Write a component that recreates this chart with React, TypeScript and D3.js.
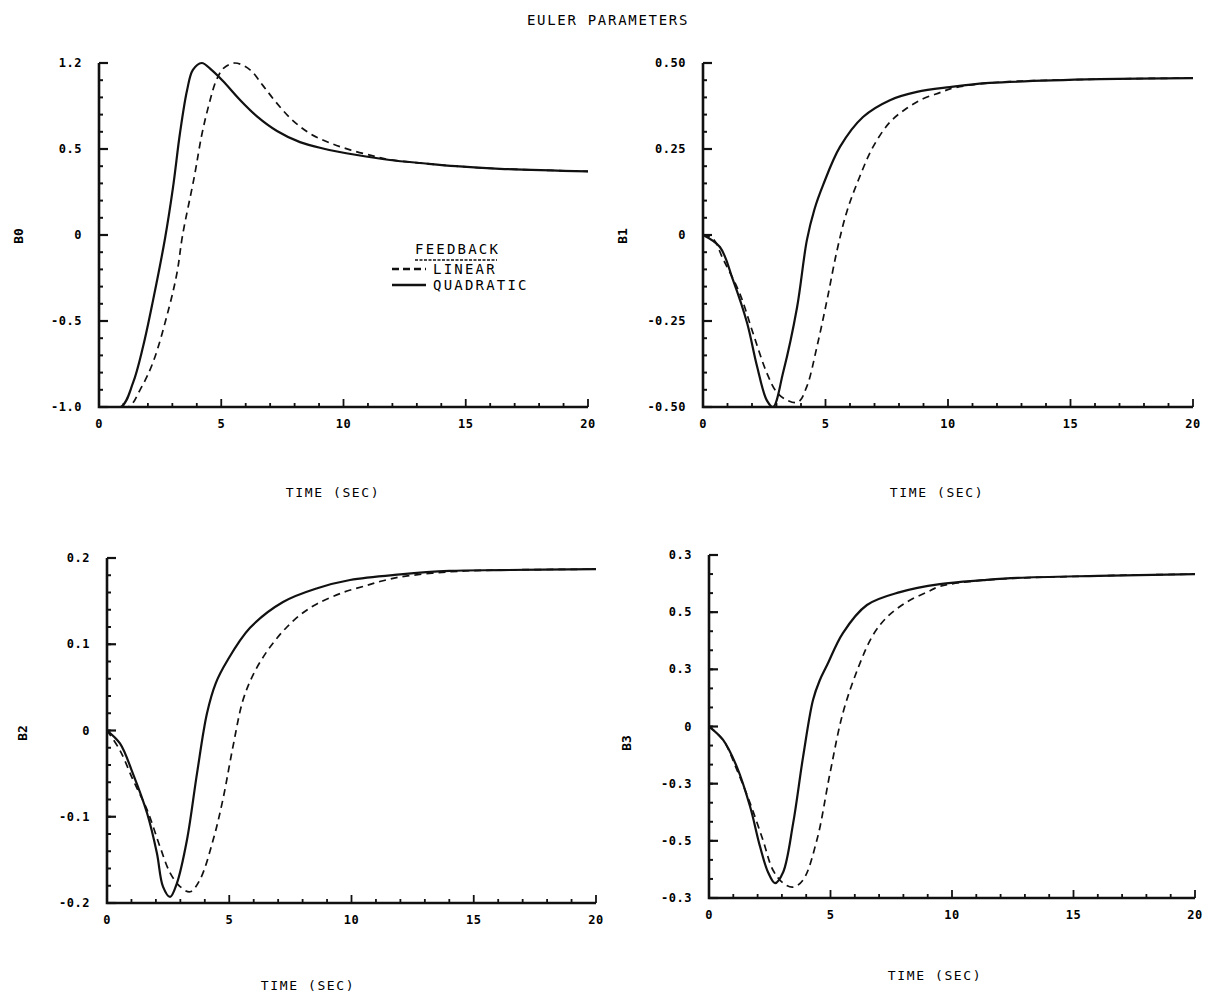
import React, { useEffect, useRef } from 'react';
import * as d3 from 'd3';

// time axis (seconds)
const timeTicks = [0, 5, 10, 15, 20];
const timeTickLabels = ['0', '5', '10', '15', '20'];

// B0
const b0Ticks = [1, 0.5, 0, -0.5, -1];
const b0TickLabels = ['1.2', '0.5', '0', '-0.5', '-1.0'];
const b0Quadratic: [number, number][] = [
  [0, -1], [0.9, -1], [1.39, -0.86], [1.8, -0.65], [2.21, -0.38], [2.7, -0.02], [3.03, 0.28],
  [3.31, 0.59], [3.6, 0.84], [3.84, 0.96], [4.2, 1.0], [4.6, 0.96], [5.07, 0.895], [5.77, 0.785],
  [6.46, 0.69], [7.28, 0.605], [8.22, 0.54], [9.16, 0.503], [10.55, 0.465], [11.9, 0.436],
  [13.25, 0.417], [14.6, 0.4], [16.4, 0.385], [20, 0.37],
];
const b0Linear: [number, number][] = [
  [0, -1], [1.2, -1], [1.68, -0.9], [2.21, -0.74], [2.85, -0.43], [3.19, -0.22], [3.42, 0.0],
  [3.9, 0.34], [4.2, 0.58], [4.5, 0.76], [4.8, 0.9], [5.1, 0.97], [5.56, 1.0], [6.18, 0.96],
  [6.7, 0.87], [7.28, 0.765], [7.93, 0.665], [8.63, 0.59], [9.45, 0.535], [10.27, 0.495],
  [11.2, 0.46], [11.9, 0.438], [13.25, 0.417], [14.6, 0.4], [16.4, 0.385], [20, 0.37],
];

// B1
const b1Ticks = [0.5, 0.25, 0, -0.25, -0.5];
const b1TickLabels = ['0.50', '0.25', '0', '-0.25', '-0.50'];
const b1Quadratic: [number, number][] = [
  [0, 0], [0.69, -0.035], [1.22, -0.13], [1.8, -0.256], [2.2, -0.38], [2.6, -0.48], [2.86, -0.5],
  [3.27, -0.4], [3.84, -0.21], [4.24, -0.015], [4.55, 0.075], [4.9, 0.145], [5.59, 0.256],
  [6.53, 0.343], [7.63, 0.392], [8.73, 0.416], [10.08, 0.43], [11.7, 0.442], [16.2, 0.453],
  [20, 0.456],
];
const b1Linear: [number, number][] = [
  [0, 0], [0.4, -0.01], [0.82, -0.07], [1.5, -0.17], [2.04, -0.285], [2.6, -0.4], [3.0, -0.456],
  [3.43, -0.48], [3.88, -0.486], [4.24, -0.44], [4.65, -0.325], [5.06, -0.19], [5.47, -0.045],
  [5.88, 0.07], [6.4, 0.17], [6.94, 0.256], [7.63, 0.328], [8.33, 0.369], [8.98, 0.396],
  [9.67, 0.414], [10.2, 0.427], [11.7, 0.442], [16.2, 0.453], [20, 0.456],
];

// B2
const b2Ticks = [0.2, 0.1, 0, -0.1, -0.2];
const b2TickLabels = ['0.2', '0.1', '0', '-0.1', '-0.2'];
const b2Quadratic: [number, number][] = [
  [0, 0], [0.53, -0.015], [1.06, -0.05], [1.64, -0.096], [2.04, -0.142], [2.29, -0.181],
  [2.58, -0.193], [2.86, -0.177], [3.27, -0.127], [3.68, -0.05], [4.09, 0.02], [4.45, 0.055],
  [4.9, 0.08], [5.85, 0.119], [7.2, 0.149], [8.6, 0.165], [9.94, 0.1745], [12, 0.181],
  [14, 0.185], [16.1, 0.186], [20, 0.187],
];
const b2Linear: [number, number][] = [
  [0, 0], [0.53, -0.023], [1.06, -0.057], [1.64, -0.092], [2.17, -0.135], [2.58, -0.165],
  [2.99, -0.181], [3.4, -0.187], [3.8, -0.173], [4.34, -0.127], [4.74, -0.08], [5.15, -0.019],
  [5.56, 0.035], [6.0, 0.066], [6.5, 0.09], [6.95, 0.107], [7.36, 0.12], [7.9, 0.134],
  [8.6, 0.147], [9.65, 0.16], [10.6, 0.168], [11.2, 0.173], [12, 0.178], [14, 0.184],
  [16, 0.186], [20, 0.187],
];

// B3
const b3Ticks = [0.6, 0.4, 0.2, 0, -0.2, -0.4, -0.6];
const b3TickLabels = ['0.3', '0.5', '0.3', '0', '-0.3', '-0.5', '-0.3'];
const b3Quadratic: [number, number][] = [
  [0, 0], [0.58, -0.047], [1.15, -0.142], [1.69, -0.28], [2.1, -0.42], [2.43, -0.51],
  [2.72, -0.548], [3.05, -0.51], [3.46, -0.34], [3.87, -0.107], [4.28, 0.093], [4.55, 0.16],
  [4.86, 0.215], [5.51, 0.327], [6.5, 0.425], [7.86, 0.47], [9.5, 0.498], [11.3, 0.512],
  [12.7, 0.52], [16, 0.527], [20, 0.533],
];
const b3Linear: [number, number][] = [
  [0, 0], [0.58, -0.047], [1.15, -0.152], [1.69, -0.268], [2.22, -0.397], [2.63, -0.502],
  [3.05, -0.548], [3.46, -0.562], [3.87, -0.537], [4.44, -0.397], [4.98, -0.163], [5.51, 0.047],
  [6.15, 0.208], [6.75, 0.32], [7.33, 0.383], [8.15, 0.436], [8.97, 0.47], [9.5, 0.49],
  [11.3, 0.512], [16, 0.527], [20, 0.533],
];

const FONT = '"DejaVu Sans Mono", monospace';

const panels = [
  { name: 'B0', ticks: b0Ticks, labels: b0TickLabels, minor: 5, quad: b0Quadratic, lin: b0Linear,
    box: { l: 99, r: 588, t: 63, b: 407 }, yLab: [18, 236], xLab: [333, 492] },
  { name: 'B1', ticks: b1Ticks, labels: b1TickLabels, minor: 5, quad: b1Quadratic, lin: b1Linear,
    box: { l: 703, r: 1193, t: 63, b: 407 }, yLab: [622, 236], xLab: [937, 492] },
  { name: 'B2', ticks: b2Ticks, labels: b2TickLabels, minor: 5, quad: b2Quadratic, lin: b2Linear,
    box: { l: 107, r: 596, t: 558, b: 903 }, yLab: [22, 733], xLab: [308, 985] },
  { name: 'B3', ticks: b3Ticks, labels: b3TickLabels, minor: 3, quad: b3Quadratic, lin: b3Linear,
    box: { l: 709, r: 1195, t: 555, b: 898 }, yLab: [626, 743], xLab: [935, 975] },
];

const drawChart = (node: SVGSVGElement) => {
  const svg = d3.select(node);
  svg.selectAll('*').remove();
  const defs = svg.append('defs');

  svg.append('text')
    .attr('x', 608).attr('y', 25)
    .attr('text-anchor', 'middle')
    .style('font-family', FONT).style('font-size', '14px').style('letter-spacing', '1.7px')
    .text('EULER PARAMETERS');

  panels.forEach((p, k) => {
    const { l, r, t, b } = p.box;
    const x = d3.scaleLinear().domain([0, 20]).range([l, r]);
    const yMax = d3.max(p.ticks) as number;
    const yMin = d3.min(p.ticks) as number;
    const y = d3.scaleLinear().domain([yMin, yMax]).range([b, t]);
    const g = svg.append('g');

    defs.append('clipPath').attr('id', `clip${k}`)
      .append('rect').attr('x', l).attr('y', t - 3).attr('width', r - l + 2).attr('height', b - t + 3);

    // minor ticks
    const step = (p.ticks[0] - p.ticks[1]) / p.minor;
    const yMinor = d3.range(yMin, yMax + step / 2, step);
    g.selectAll('.ym').data(yMinor).enter().append('line')
      .attr('x1', l).attr('x2', l + 4)
      .attr('y1', d => y(d)).attr('y2', d => y(d))
      .attr('stroke', '#111').attr('stroke-width', 2);
    g.selectAll('.yM').data(p.ticks).enter().append('line')
      .attr('x1', l).attr('x2', l + 9)
      .attr('y1', d => y(d)).attr('y2', d => y(d))
      .attr('stroke', '#111').attr('stroke-width', 2.2);
    g.selectAll('.xm').data(d3.range(0, 21, 1)).enter().append('line')
      .attr('x1', d => x(d)).attr('x2', d => x(d))
      .attr('y1', b).attr('y2', d => (d % 5 === 0 ? b - 8 : b - 4))
      .attr('stroke', '#111').attr('stroke-width', 1.8);

    // axes
    g.append('path')
      .attr('d', `M${l},${t}V${b}H${r}`)
      .attr('fill', 'none').attr('stroke', '#111').attr('stroke-width', 2.6);

    // tick labels
    g.selectAll('.yl').data(p.ticks).enter().append('text')
      .attr('x', l - 17).attr('y', d => y(d) + 4)
      .attr('text-anchor', 'end')
      .style('font-family', FONT).style('font-size', '12px').style('font-weight', 'bold')
      .style('letter-spacing', '0.5px')
      .text((d, i) => p.labels[i]);
    g.selectAll('.xl').data(timeTicks).enter().append('text')
      .attr('x', d => x(d)).attr('y', b + 21)
      .attr('text-anchor', 'middle')
      .style('font-family', FONT).style('font-size', '12px').style('font-weight', 'bold')
      .style('letter-spacing', '0.5px')
      .text((d, i) => timeTickLabels[i]);

    // axis titles
    g.append('text')
      .attr('x', p.xLab[0]).attr('y', p.xLab[1] + 5)
      .attr('text-anchor', 'middle')
      .style('font-family', FONT).style('font-size', '13px').style('letter-spacing', '1.6px')
      .text('TIME (SEC)');
    g.append('text')
      .attr('transform', `translate(${p.yLab[0] + 5},${p.yLab[1]}) rotate(-90)`)
      .attr('text-anchor', 'middle')
      .style('font-family', FONT).style('font-size', '13px').style('font-weight', 'bold')
      .text(p.name);

    const line = d3.line<[number, number]>()
      .x(d => x(d[0])).y(d => y(d[1]))
      .curve(d3.curveCatmullRom.alpha(0.5));

    const curves = g.append('g').attr('clip-path', `url(#clip${k})`);
    curves.append('path').datum(p.lin)
      .attr('d', line)
      .attr('fill', 'none').attr('stroke', '#111').attr('stroke-width', 1.7)
      .attr('stroke-dasharray', '7,5');
    curves.append('path').datum(p.quad)
      .attr('d', line)
      .attr('fill', 'none').attr('stroke', '#111').attr('stroke-width', 2.2);
  });

  // legend
  const lg = svg.append('g').style('font-family', FONT).style('font-size', '14px')
    .style('letter-spacing', '2.2px');
  lg.append('text').attr('x', 415).attr('y', 254).text('FEEDBACK');
  lg.append('line').attr('x1', 415).attr('x2', 497).attr('y1', 260).attr('y2', 260)
    .attr('stroke', '#111').attr('stroke-width', 1.6).attr('stroke-dasharray', '3,1.5');
  lg.append('line').attr('x1', 392).attr('x2', 426).attr('y1', 269).attr('y2', 269)
    .attr('stroke', '#111').attr('stroke-width', 2.4).attr('stroke-dasharray', '7,4');
  lg.append('text').attr('x', 433).attr('y', 274).text('LINEAR');
  lg.append('line').attr('x1', 392).attr('x2', 426).attr('y1', 285).attr('y2', 285)
    .attr('stroke', '#111').attr('stroke-width', 2.6);
  lg.append('text').attr('x', 433).attr('y', 290).text('QUADRATIC');
};

const App = () => {
  const ref = useRef<SVGSVGElement>(null);
  useEffect(() => {
    if (ref.current) drawChart(ref.current);
  }, []);
  return (
    <svg ref={ref} width={1216} height={995}
      style={{ position: 'absolute', left: 0, top: 0, background: '#fff' }} />
  );
};

export default App;
